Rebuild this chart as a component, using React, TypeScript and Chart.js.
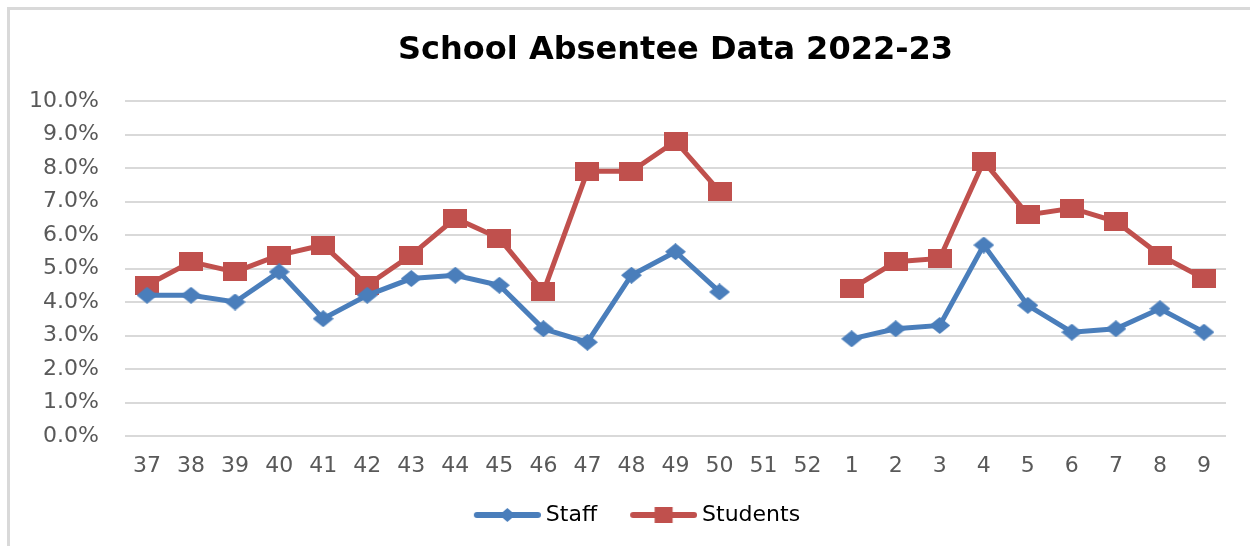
import React, { useEffect, useRef } from "react";
import { Chart, registerables } from "chart.js";

Chart.register(...registerables);

const TITLE = "School Absentee Data 2022-23";
const WEEKS = ["37", "38", "39", "40", "41", "42", "43", "44", "45", "46", "47", "48", "49", "50", "51", "52", "1", "2", "3", "4", "5", "6", "7", "8", "9"];
const STAFF = [4.2, 4.2, 4.0, 4.9, 3.5, 4.2, 4.7, 4.8, 4.5, 3.2, 2.8, 4.8, 5.5, 4.3, null, null, 2.9, 3.2, 3.3, 5.7, 3.9, 3.1, 3.2, 3.8, 3.1];
const STUDENTS = [4.5, 5.2, 4.9, 5.4, 5.7, 4.5, 5.4, 6.5, 5.9, 4.3, 7.9, 7.9, 8.8, 7.3, null, null, 4.4, 5.2, 5.3, 8.2, 6.6, 6.8, 6.4, 5.4, 4.7];
const Y_MIN = 0;
const Y_MAX = 10;
const Y_STEP = 1;

const BLUE = "#4a7ebb";
const RED = "#c0504d";
const FONT = "'DejaVu Sans', sans-serif";

function makeCanvas(w: number, h: number, draw: (ctx: CanvasRenderingContext2D) => void) {
  const c = document.createElement("canvas");
  c.width = w;
  c.height = h;
  const ctx = c.getContext("2d")!;
  draw(ctx);
  return c;
}

function diamond(w: number, h: number, color: string) {
  return makeCanvas(w, h, (ctx) => {
    ctx.fillStyle = color;
    ctx.beginPath();
    ctx.moveTo(w / 2, 0);
    ctx.lineTo(w, h / 2);
    ctx.lineTo(w / 2, h);
    ctx.lineTo(0, h / 2);
    ctx.closePath();
    ctx.fill();
  });
}

function square(w: number, h: number, color: string) {
  return makeCanvas(w, h, (ctx) => {
    ctx.fillStyle = color;
    ctx.fillRect(0, 0, w, h);
  });
}

function legendImage(color: string, marker: "diamond" | "square") {
  const W = 79;
  const H = 22;
  return makeCanvas(W, H, (ctx) => {
    const x0 = 15;
    const x1 = 76;
    ctx.strokeStyle = color;
    ctx.lineWidth = 6;
    ctx.lineCap = "round";
    ctx.beginPath();
    ctx.moveTo(x0, H / 2);
    ctx.lineTo(x1, H / 2);
    ctx.stroke();
    const cx = (12 + 79) / 2;
    ctx.fillStyle = color;
    if (marker === "diamond") {
      ctx.beginPath();
      ctx.moveTo(cx, H / 2 - 7);
      ctx.lineTo(cx + 8, H / 2);
      ctx.lineTo(cx, H / 2 + 7);
      ctx.lineTo(cx - 8, H / 2);
      ctx.closePath();
      ctx.fill();
    } else {
      ctx.fillRect(cx - 9, H / 2 - 8, 18, 16);
    }
  });
}

const legendShift = {
  id: "legendShift",
  afterLayout(chart: any) {
    if (chart.legend) chart.legend.left = 42;
  },
};

export default function App() {
  const ref = useRef<HTMLCanvasElement | null>(null);

  useEffect(() => {
    if (!ref.current) return;
    const staffPt = diamond(21, 17, BLUE);
    const studPt = square(24, 19, RED);
    const staffLeg = legendImage(BLUE, "diamond");
    const studLeg = legendImage(RED, "square");

    const chart = new Chart(ref.current, {
      type: "line",
      data: {
        labels: WEEKS,
        datasets: [
          {
            label: "Staff",
            data: STAFF,
            borderColor: BLUE,
            backgroundColor: BLUE,
            borderWidth: 5,
            pointStyle: staffPt as any,
            pointRadius: 10,
            spanGaps: false,
            tension: 0,
          },
          {
            label: "Students",
            data: STUDENTS,
            borderColor: RED,
            backgroundColor: RED,
            borderWidth: 5,
            pointStyle: studPt as any,
            pointRadius: 10,
            spanGaps: false,
            tension: 0,
          },
        ],
      },
      plugins: [legendShift],
      options: {
        responsive: false,
        animation: false,
        layout: { padding: { left: 0, right: 24, top: 0, bottom: 10 } },
        plugins: {
          tooltip: { enabled: false },
          title: {
            display: true,
            text: TITLE,
            fullSize: false,
            color: "#000000",
            font: { family: FONT, size: 32, weight: "bold" },
            padding: { top: 31, bottom: 31.6 },
          },
          legend: {
            display: true,
            position: "bottom",
            labels: {
              usePointStyle: true,
              pointStyleWidth: 67,
              padding: 27,
              color: "#595959",
              font: { family: FONT, size: 22 },
              generateLabels: () => [
                { text: "Staff", pointStyle: staffLeg as any, fillStyle: BLUE, strokeStyle: BLUE, lineWidth: 0, datasetIndex: 0, hidden: false },
                { text: "Students", pointStyle: studLeg as any, fillStyle: RED, strokeStyle: RED, lineWidth: 0, datasetIndex: 1, hidden: false },
              ],
            },
          },
        },
        scales: {
          x: {
            offset: true,
            grid: { display: false },
            border: { display: false },
            ticks: {
              color: "#595959",
              font: { family: FONT, size: 22 },
              padding: 9,
              maxRotation: 0,
              autoSkip: false,
            },
            afterFit: (scale: any) => {
              scale.height = 41;
            },
          },
          y: {
            min: Y_MIN,
            max: Y_MAX,
            grid: { color: "#d9d9d9", lineWidth: 2, drawTicks: false },
            border: { display: false },
            ticks: {
              stepSize: Y_STEP,
              padding: 26,
              color: "#595959",
              font: { family: FONT, size: 22 },
              callback: (v: any) => Number(v).toFixed(1) + "%",
            },
            afterFit: (scale: any) => {
              scale.width = 125;
            },
          },
        },
      },
    });
    return () => chart.destroy();
  }, []);

  return (
    <div style={{ position: "absolute", left: 0, top: 0, width: 1250, height: 546, background: "#fff", overflow: "hidden" }}>
      <div
        style={{
          position: "absolute",
          left: 7,
          top: 7,
          width: 1260,
          height: 560,
          borderLeft: "3px solid #d9d9d9",
          borderTop: "3px solid #d9d9d9",
        }}
      />
      <canvas ref={ref} width={1250} height={546} style={{ position: "absolute", left: 0, top: 0, width: 1250, height: 546 }} />
    </div>
  );
}
